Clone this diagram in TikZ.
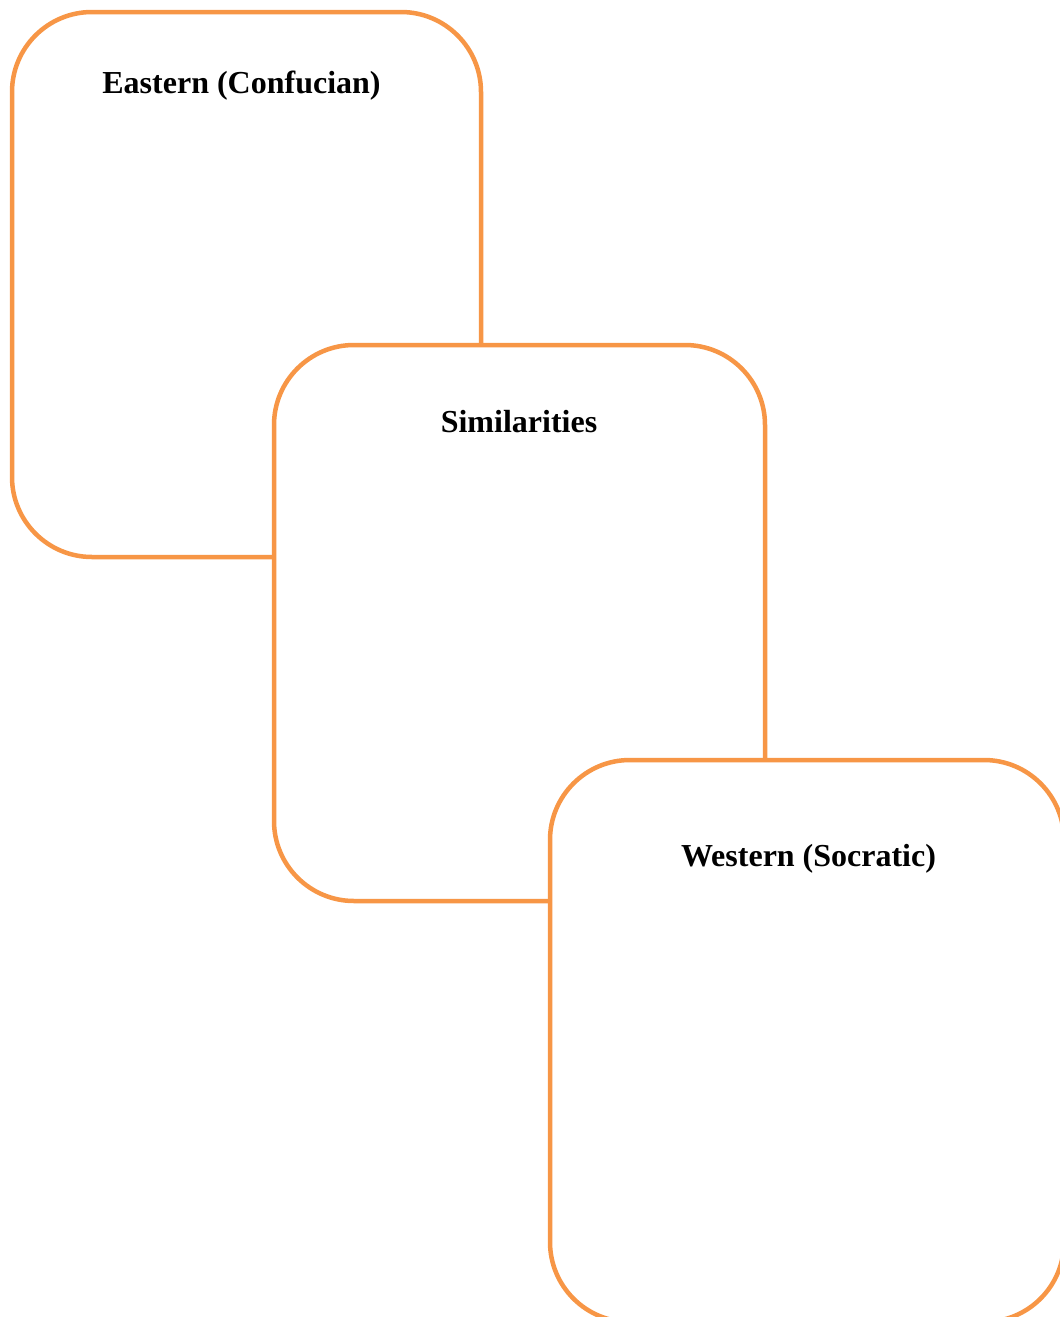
\documentclass[tikz,border=0pt]{standalone}
\usepackage{fontspec}
\setmainfont{Liberation Serif}
\definecolor{boxorange}{HTML}{F79646}
\begin{document}
\begin{tikzpicture}[x=1pt,y=-1pt,
  panel/.style={draw=boxorange, fill=white, line width=4.5pt, rounded corners=80pt,
    rectangle, inner sep=0pt, outer sep=0pt},
  heading/.style={font=\fontsize{32}{38}\selectfont\bfseries, anchor=base, inner sep=0pt}]
  \useasboundingbox (0,0) rectangle (1060,1317);
  \clip (0,0) rectangle (1060,1317);
  % three overlapping panels, later ones drawn on top
  \node[panel, minimum width=469pt, minimum height=545pt] (east) at (246.5,284.5) {};
  \node[panel, minimum width=491pt, minimum height=556pt] (sim) at (519.5,623) {};
  \node[panel, minimum width=514pt, minimum height=562pt] (west) at (807,1041) {};
  % headings
  \node[heading] (eastT) at (241.5,93) {Eastern (Confucian)};
  \node[heading] (simT) at (519,432) {Similarities};
  \node[heading] (westT) at (808.5,866) {Western (Socratic)};
\end{tikzpicture}
\end{document}
